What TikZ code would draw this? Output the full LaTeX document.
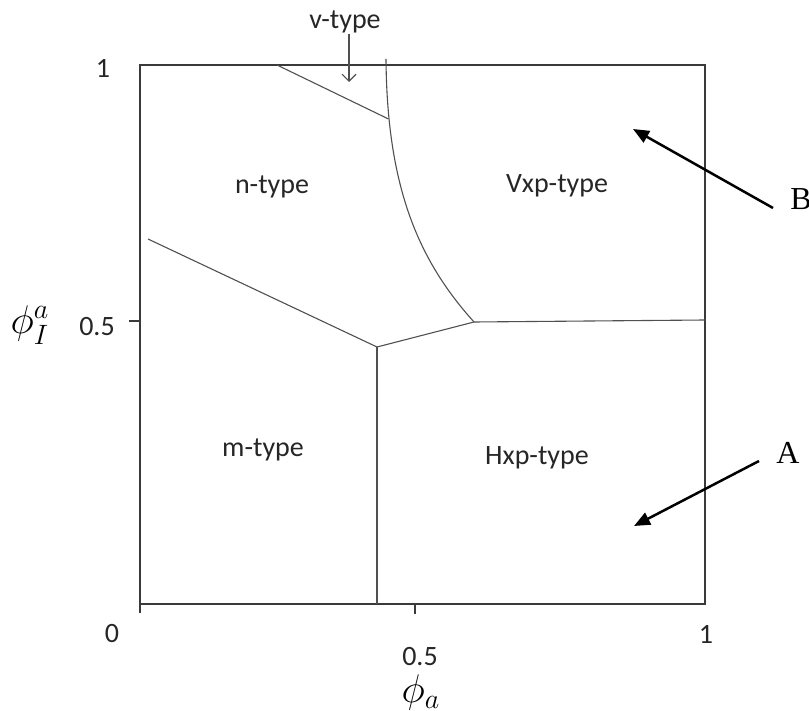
\RequirePackage{fix-cm}
\documentclass[tikz,border=0pt]{standalone}
\usepackage{amsmath}
\usepackage{fontspec}
\setmainfont{Carlito}
\newfontfamily\letterfont{Liberation Serif}
\usepackage{tikz}
\usetikzlibrary{arrows.meta,positioning,calc}
\usepackage{xcolor}
\definecolor{framec}{HTML}{3A3A3A}
\definecolor{bdry}{HTML}{505050}
\definecolor{lbl}{HTML}{262626}
\tikzset{
  frameline/.style={draw=framec, line width=0.75pt},
  bdline/.style={draw=bdry, line width=0.55pt},
  region/.style={font=\fontsize{14}{16}\selectfont, text=lbl, inner sep=0pt},
  ticklbl/.style={font=\fontsize{14}{16}\selectfont, text=lbl, inner sep=0pt},
  axlbl/.style={font=\fontsize{20}{24}\selectfont, inner sep=0pt},
  letter/.style={font=\letterfont\fontsize{16}{18}\selectfont, inner sep=0pt},
  pointer/.style={-{Triangle[length=8pt, width=6.5pt]}, line width=1.25pt, black},
  vpointer/.style={-{Straight Barb[length=3.5pt, width=7pt]}, line width=0.55pt, color=bdry},
}

\begin{document}
\begin{tikzpicture}[x=0.5pt, y=-0.5pt]
    \useasboundingbox (0,0) rectangle (809,711);
    \coordinate (bl) at (140,604); \coordinate (tr) at (705,65);
    \draw[frameline] (bl) rectangle (tr);
    \draw[frameline] (bl) -- ++(0,9);
    \coordinate (xhalft) at (415,604); \draw[frameline] (xhalft) -- ++(0,10);
    \coordinate (yhalft) at (140,321); \draw[frameline] (yhalft) -- ++(-11,0);
    \coordinate (vtop) at (277,65);
    \coordinate (vcorner) at (388.5,119);
    \coordinate (ctop) at (386,59);
    \coordinate (trip) at (474,322);
    \coordinate (trilow) at (377,347);
    \coordinate (nleft) at (148,239);
    \coordinate (hright) at (705,320);
    \coordinate (mbot) at (377,604);
    \draw[bdline] (vtop) -- (vcorner);
    \draw[bdline] (ctop) .. controls (387,190) and (420,262) .. (trip);
    \draw[bdline] (trip) -- (hright);
    \draw[bdline] (nleft) -- (trilow) -- (trip);
    \draw[bdline] (trilow) -- (mbot);
    \node[region] (ntype) at (272,187) {n-type};
    \node[region] (vxp) at (557,186) {Vxp-type};
    \node[region] (mtype) at (263,450) {m-type};
    \node[region] (hxp) at (537,458) {Hxp-type};
    \node[region] (vtype) at (345,22) {v-type};
    \coordinate (vtip) at (349,82);
    \draw[vpointer] (vtype.south -| vtip) -- (vtip);
    \node[letter] (B) at (801,199) {B};
    \node[letter] (A) at (788,453) {A};
    \coordinate (Btip) at (633,129); \coordinate (Btail) at (773,208);
    \coordinate (Atip) at (634,526); \coordinate (Atail) at (759,461);
    \draw[pointer] (Btail) -- (Btip);
    \draw[pointer] (Atail) -- (Atip);
    \node[ticklbl] (y1) at (103,68) {1};
    \node[ticklbl] (yhalf) at (97,327) {0.5};
    \node[ticklbl] (x0) at (112,634) {0};
    \node[ticklbl] (xhalf) at (420,657) {0.5};
    \node[ticklbl] (x1) at (706,634) {1};
    \node[axlbl] (ylab) at (30,325) {$\phi_I^a$};
    \node[axlbl] (xlab) at (421,692) {$\phi_a$};
  \end{tikzpicture}
\end{document}
